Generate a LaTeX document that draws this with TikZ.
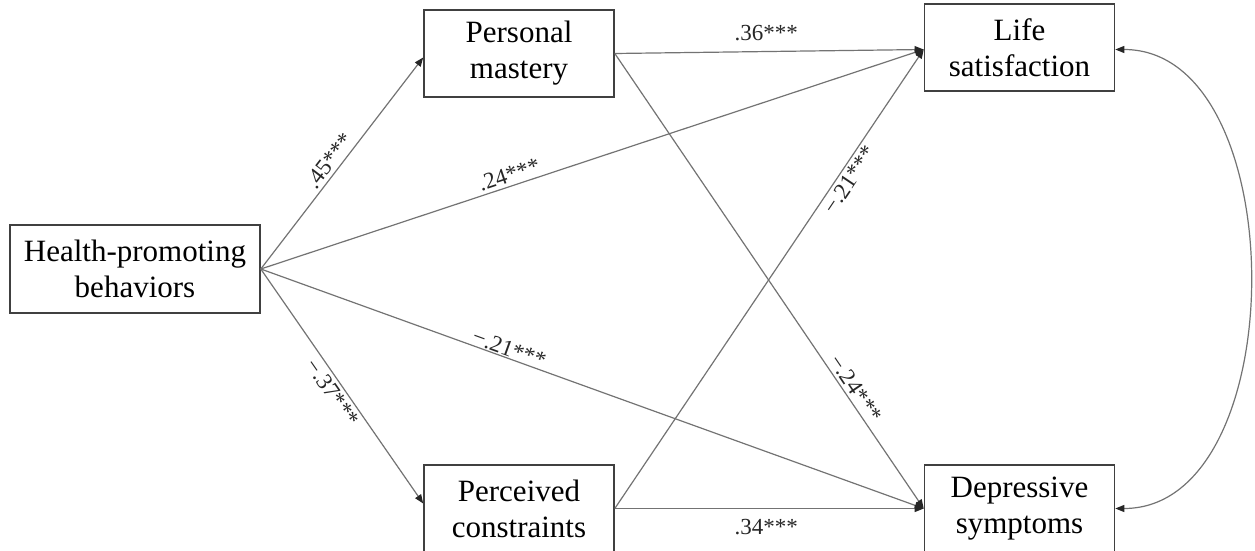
\documentclass[tikz,border=0pt]{standalone}
\usepackage{fontspec}
\setmainfont{Liberation Serif}
\usetikzlibrary{arrows.meta}
\begin{document}
\begin{tikzpicture}[x=1pt,y=1pt,
  box/.style={draw=black!75, line width=1.6pt, fill=white, align=center, inner sep=0pt,
    minimum width=190pt, minimum height=87pt, font=\fontsize{31}{36}\selectfont},
  conn/.style={draw=black!55, line width=1.2pt, -{Triangle[length=9pt,width=7pt,color=black!85]}},
  cov/.style={draw=black!55, line width=1.2pt, {Triangle[length=9pt,width=7pt,color=black!85]}-{Triangle[length=9pt,width=7pt,color=black!85]}},
  lbl/.style={font=\fontsize{23}{26}\selectfont, text=black!85, inner sep=3pt}]
\useasboundingbox (0,0) rectangle (1255,550);
\node[box, minimum width=250pt, minimum height=88pt] (H) at (135,281) {Health-promoting\\behaviors};
\node[box] (PM) at (519,496.5) {Personal\\mastery};
\node[box] (LS) at (1019.5,502.5) {Life\\satisfaction};
\node[box] (PC) at (519,41.5) {Perceived\\constraints};
\node[box] (DS) at (1019.5,41.5) {Depressive\\symptoms};
\draw[conn] (H.east) -- node[lbl, sloped, above, pos=0.48] {.45***} ([yshift=-4pt]PM.west);
\draw[conn] (H.east) -- node[lbl, sloped, below, pos=0.5] {−.37***} ([yshift=5pt]PC.west);
\draw[conn] (H.east) -- node[lbl, sloped, above, pos=0.38] {.24***} ([yshift=-2pt]LS.west);
\draw[conn] (H.east) -- node[lbl, sloped, above, pos=0.37, inner sep=1pt] {−.21***} (DS.west);
\draw[conn] (PM.east) -- node[lbl, above=7pt, pos=0.49] {.36***} ([yshift=-2pt]LS.west);
\draw[conn] (PM.east) -- node[lbl, sloped, above, pos=0.75] {−.24***} (DS.west);
\draw[conn] (PC.east) -- node[lbl, sloped, below, pos=0.73] {−.21***} ([yshift=-2pt]LS.west);
\draw[conn] (PC.east) -- node[lbl, below=7pt, pos=0.49] {.34***} (DS.west);
\draw[cov] ([yshift=-2pt]LS.east) to[out=0, in=0, looseness=1] (DS.east);
\end{tikzpicture}
\end{document}
